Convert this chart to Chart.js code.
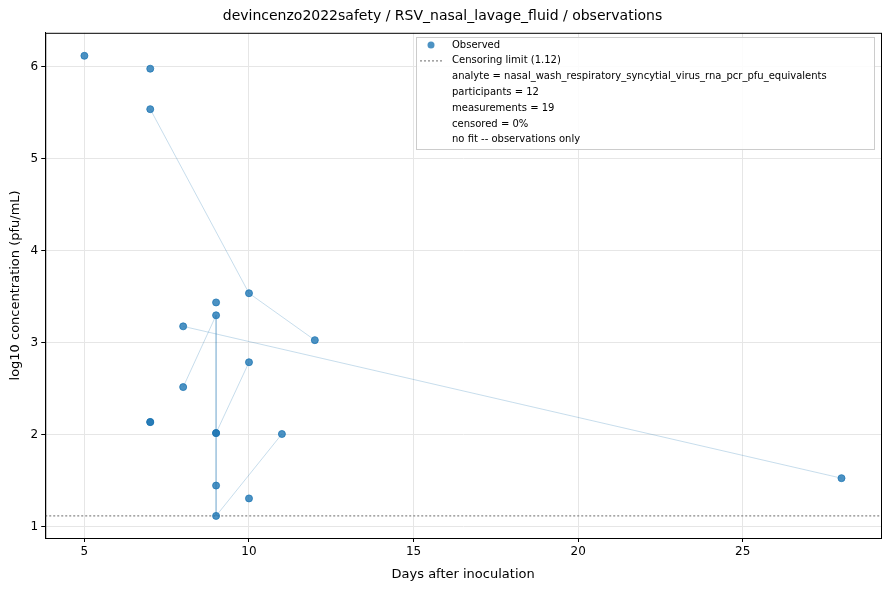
<!DOCTYPE html>
<html>
<head>
<script src="https://cdn.jsdelivr.net/npm/chart.js@4"></script>
<style>body{margin:0;background:#fff}#wrap{width:890px;height:590px}</style>
</head>
<body>
<div id="wrap"><canvas id="c" width="890" height="590"></canvas></div>
<script>
// observations (day, log10 pfu/mL)
const observed = [
  [5, 6.12], [7, 5.98], [7, 5.54], [7, 2.14], [7, 2.14],
  [8, 3.18], [8, 2.52], [9, 3.44], [9, 3.30], [9, 2.02], [9, 2.02],
  [9, 1.45], [9, 1.12], [10, 3.54], [10, 2.79], [10, 1.31],
  [11, 2.01], [12, 3.03], [28, 1.53],
];
// per-participant trajectories
const subjects = [
  [[7, 5.54], [10, 3.54], [12, 3.03]],
  [[8, 3.18], [28, 1.53]],
  [[8, 2.52], [9, 3.30]],
  [[9, 3.30], [9, 1.12]],
  [[9, 2.02], [10, 2.79]],
  [[9, 1.12], [11, 2.01]],
];
const lod = 1.12;
const blue = "rgba(31,119,180,0.8)";

const datasets = [{
  type: "scatter", label: "Observed",
  data: observed.map(([x, y]) => ({ x, y })),
  backgroundColor: blue, borderColor: blue, pointRadius: 3.5, order: 0,
}];
subjects.forEach((s) => {
  datasets.push({
    type: "line", data: s.map(([x, y]) => ({ x, y })),
    borderColor: "rgba(31,119,180,0.25)", borderWidth: 1, pointRadius: 0, order: 2,
  });
});
datasets.push({
  type: "line", label: "Censoring limit (1.12)",
  data: [{ x: 3.81, y: lod }, { x: 29.2, y: lod }],
  borderColor: "#888", borderWidth: 1.3, borderDash: [2, 2], pointRadius: 0, order: 1,
});

const legendBox = {
  id: "legendBox",
  afterDraw(chart) {
    const ctx = chart.ctx;
    const a = chart.chartArea;
    ctx.save();
    ctx.strokeStyle = "#000"; ctx.lineWidth = 1;
    ctx.strokeRect(a.left + 0.5, a.top + 0.5, a.right - a.left, a.bottom - a.top);
    const x0 = 416, y0 = 37, w = 458, h = 112;
    ctx.fillStyle = "rgba(255,255,255,0.85)";
    ctx.strokeStyle = "#ccc";
    ctx.fillRect(x0, y0, w, h);
    ctx.strokeRect(x0 + 0.5, y0 + 0.5, w, h);
    ctx.font = "10px 'DejaVu Sans'";
    ctx.textBaseline = "middle";
    const lines = ["Observed", "Censoring limit (1.12)",
      "analyte = nasal_wash_respiratory_syncytial_virus_rna_pcr_pfu_equivalents",
      "participants = 12", "measurements = 19", "censored = 0%", "no fit -- observations only"];
    lines.forEach((t, i) => {
      const y = y0 + 8 + i * 15.8;
      ctx.fillStyle = "#000";
      ctx.fillText(t, x0 + 36, y);
      if (i === 0) {
        ctx.fillStyle = blue;
        ctx.beginPath(); ctx.arc(x0 + 15, y, 3.5, 0, Math.PI * 2); ctx.fill();
      } else if (i === 1) {
        ctx.strokeStyle = "#888"; ctx.setLineDash([2, 2]); ctx.lineWidth = 1.3;
        ctx.beginPath(); ctx.moveTo(x0 + 4, y); ctx.lineTo(x0 + 26, y); ctx.stroke();
        ctx.setLineDash([]);
      }
    });
    ctx.restore();
  },
};

const grid = { color: "#e6e6e6", drawTicks: true, tickLength: 4, tickColor: "#000" };

new Chart(document.getElementById("c"), {
  type: "scatter",
  data: { datasets },
  options: {
    responsive: false, animation: false,
    layout: { padding: { left: 4, right: 9, top: 2, bottom: 4 } },
    plugins: {
      legend: { display: false },
      tooltip: { enabled: false },
      title: { display: true, text: "devincenzo2022safety / RSV_nasal_lavage_fluid / observations",
        color: "#000", font: { size: 14, weight: "normal", family: "'DejaVu Sans'" }, padding: { top: 6, bottom: 8 } },
    },
    scales: {
      x: {
        min: 3.81, max: 29.2,
        ticks: { color: "#000", font: { size: 12, family: "'DejaVu Sans'" } },
        afterBuildTicks: (a) => { a.ticks = [5, 10, 15, 20, 25].map((v) => ({ value: v })); },
        grid, border: { color: "#000" },
        title: { display: true, text: "Days after inoculation", color: "#000", font: { size: 13, family: "'DejaVu Sans'" } },
      },
      y: {
        min: 0.88, max: 6.37,
        afterBuildTicks: (a) => { a.ticks = [1, 2, 3, 4, 5, 6].map((v) => ({ value: v })); },
        ticks: { color: "#000", font: { size: 12, family: "'DejaVu Sans'" } },
        grid, border: { color: "#000" },
        title: { display: true, text: "log10 concentration (pfu/mL)", color: "#000", font: { size: 13, family: "'DejaVu Sans'" } },
      },
    },
  },
  plugins: [legendBox],
});
</script>
</body>
</html>
